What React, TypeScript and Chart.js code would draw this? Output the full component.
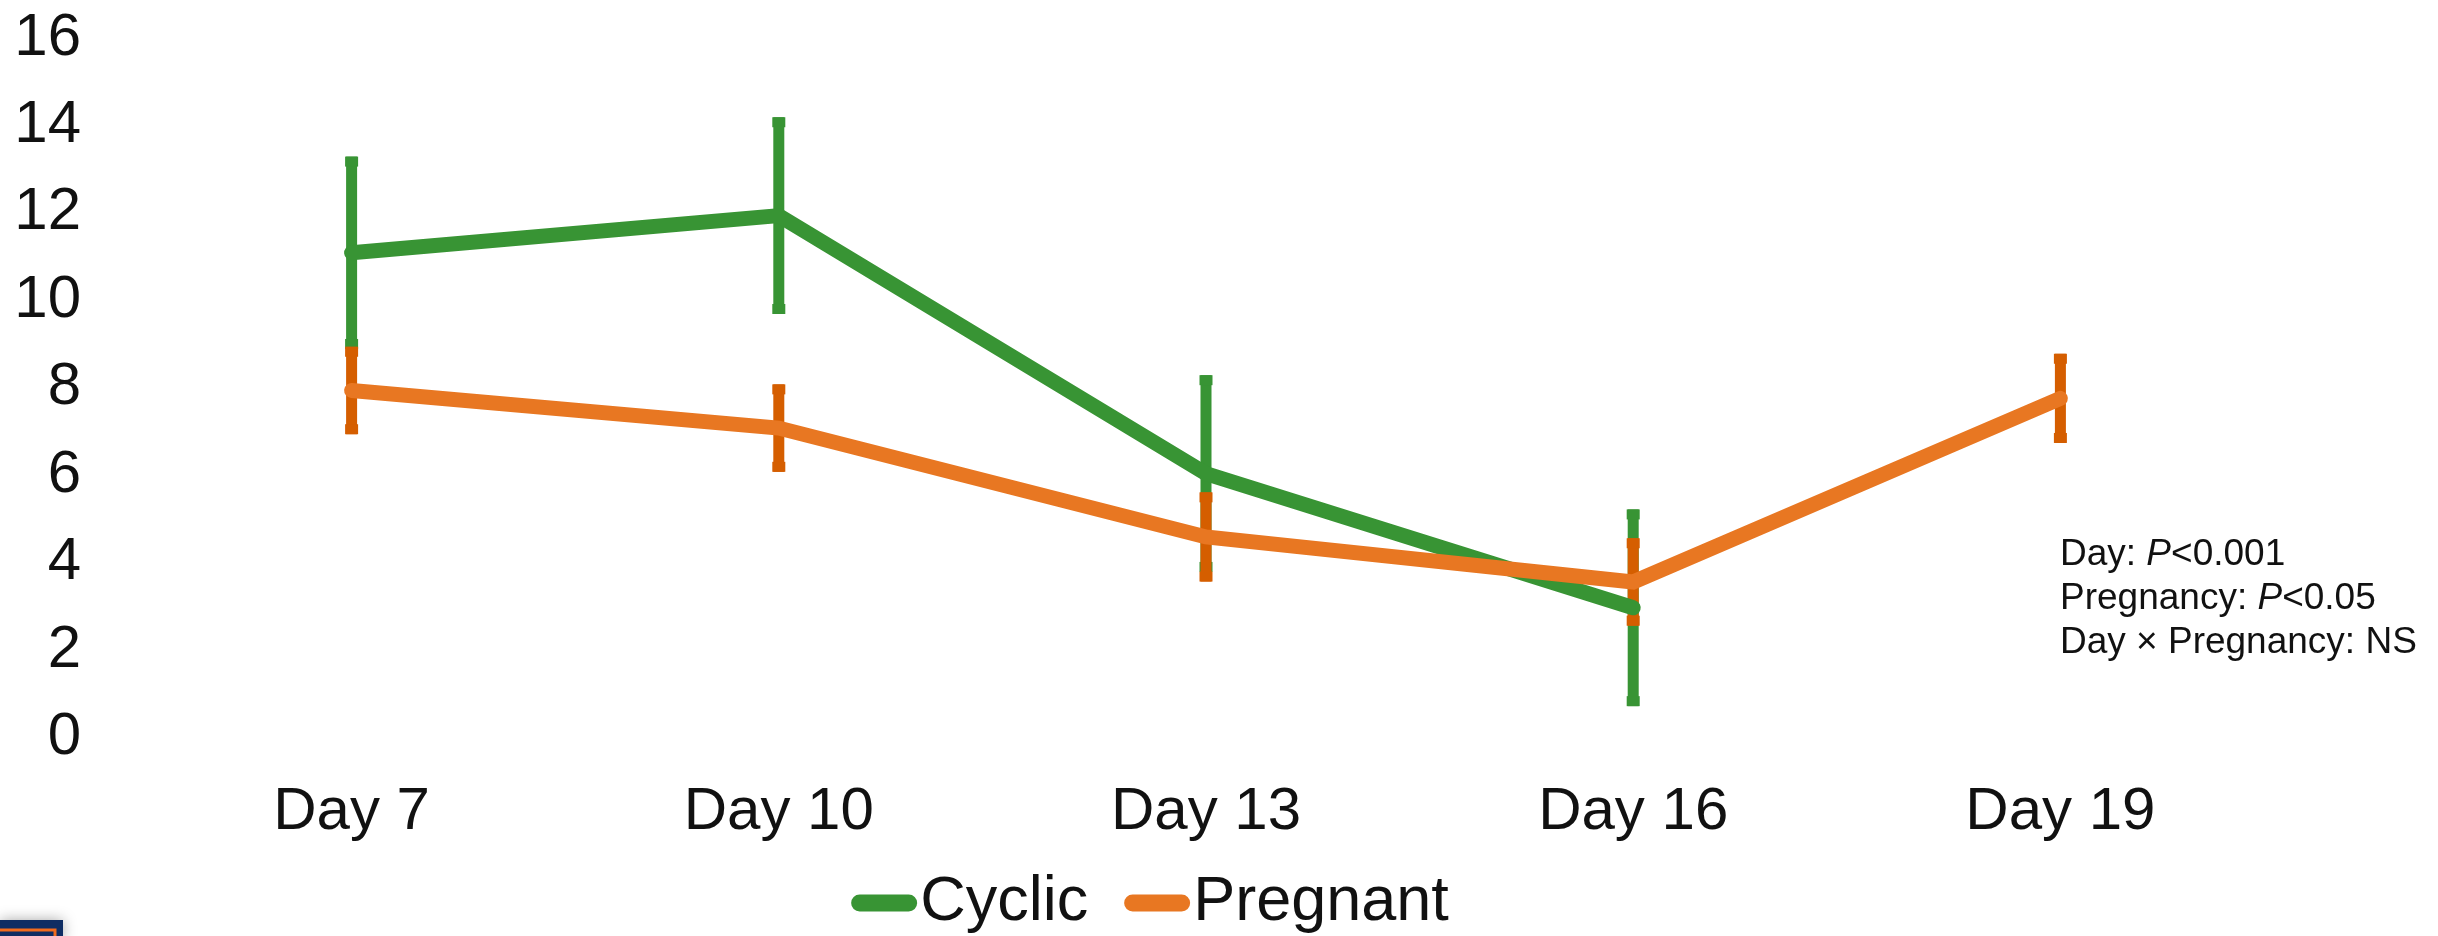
import React, { useEffect, useRef } from 'react';
import { Chart, registerables } from 'chart.js';

Chart.register(...registerables);

const categories = ['Day 7', 'Day 10', 'Day 13', 'Day 16', 'Day 19'];
const cyclicValues: (number | null)[] = [10.95, 11.8, 5.9, 2.83, null];
const cyclicErrors: (number | null)[] = [2.2, 2.25, 2.25, 2.25, null];
const pregnantValues: (number | null)[] = [7.8, 6.94, 4.45, 3.42, 7.62];
const pregnantErrors: (number | null)[] = [1.0, 1.0, 1.02, 1.0, 1.02];
const yTickValues = [0, 2, 4, 6, 8, 10, 12, 14, 16];
const seriesNames = ['Cyclic', 'Pregnant'];
const statLines: [string, boolean][][] = [
  [['Day: ', false], ['P', true], ['<0.001', false]],
  [['Pregnancy: ', false], ['P', true], ['<0.05', false]],
  [['Day \u00D7 Pregnancy: NS', false]],
];

const FONT = '"Liberation Sans", Arial, Helvetica, sans-serif';
const GREEN = '#389434';
const ORANGE = '#E87722';
const ORANGE_ERR = '#D55E00';
const TEXT = '#111111';

const errorBarPlugin = {
  id: 'errorBars',
  beforeDatasetsDraw(chart: any) {
    const ctx = chart.ctx;
    const ys = chart.scales.y;
    chart.data.datasets.forEach((ds: any, di: number) => {
      const meta = chart.getDatasetMeta(di);
      ctx.save();
      ctx.fillStyle = ds.errorColor;
      meta.data.forEach((pt: any, i: number) => {
        const v = ds.data[i];
        const e = ds.errors[i];
        if (v == null || e == null) return;
        const top = ys.getPixelForValue(v + e);
        const bot = ys.getPixelForValue(v - e);
        const x = pt.x;
        ctx.fillRect(x - 5.5, top, 11, bot - top);
        ctx.fillRect(x - 6.5, top, 13, 10);
        ctx.fillRect(x - 6.5, bot - 10, 13, 10);
      });
      ctx.restore();
    });
  },
};

const decorPlugin = {
  id: 'decor',
  afterDraw(chart: any) {
    const ctx = chart.ctx;
    const area = chart.chartArea;
    ctx.save();
    // custom legend
    ctx.font = `63px ${FONT}`;
    ctx.textBaseline = 'middle';
    ctx.textAlign = 'left';
    const colors = [GREEN, ORANGE];
    const swatch = 66;
    const gapText = 3;
    const gapItem = 36;
    const widths = seriesNames.map((n) => ctx.measureText(n).width);
    let total = 0;
    widths.forEach((w, i) => {
      total += swatch + gapText + w + (i < widths.length - 1 ? gapItem : 0);
    });
    const cx = (area.left + area.right) / 2 - 56;
    let x = cx - total / 2;
    const ly = 903;
    seriesNames.forEach((n, i) => {
      ctx.strokeStyle = colors[i];
      ctx.lineWidth = 17;
      ctx.lineCap = 'round';
      ctx.beginPath();
      ctx.moveTo(x + 8.5, ly);
      ctx.lineTo(x + swatch - 8.5, ly);
      ctx.stroke();
      ctx.fillStyle = TEXT;
      ctx.fillText(n, x + swatch + gapText, ly);
      x += swatch + gapText + widths[i] + gapItem;
    });

    // statistics annotation
    ctx.textBaseline = 'alphabetic';
    const sx = 2060;
    let sy = 565;
    statLines.forEach((parts) => {
      let px = sx;
      parts.forEach(([t, it]) => {
        ctx.font = `${it ? 'italic ' : ''}37px ${FONT}`;
        ctx.fillStyle = TEXT;
        ctx.fillText(t, px, sy);
        px += ctx.measureText(t).width;
      });
      sy += 44;
    });

    // corner logo fragment
    ctx.shadowColor = 'rgba(0,0,0,0.35)';
    ctx.shadowBlur = 14;
    ctx.fillStyle = '#0F2D63';
    ctx.fillRect(0, 920, 63, 20);
    ctx.shadowBlur = 0;
    ctx.strokeStyle = '#F26B1D';
    ctx.lineWidth = 3;
    ctx.beginPath();
    ctx.moveTo(0, 930);
    ctx.lineTo(55, 930);
    ctx.lineTo(55, 940);
    ctx.stroke();
    ctx.restore();
  },
};

export default function App() {
  const ref = useRef<HTMLCanvasElement | null>(null);

  useEffect(() => {
    document.body.style.margin = '0';
    const canvas = ref.current;
    if (!canvas) return;
    const chart = new Chart(canvas, {
      type: 'line',
      data: {
        labels: categories,
        datasets: [
          {
            label: seriesNames[0],
            data: cyclicValues,
            errors: cyclicErrors,
            errorColor: GREEN,
            borderColor: GREEN,
            backgroundColor: GREEN,
            borderWidth: 15,
            borderCapStyle: 'round',
            borderJoinStyle: 'miter',
            pointRadius: 0,
            pointHoverRadius: 0,
            tension: 0,
            fill: false,
            order: 1,
          } as any,
          {
            label: seriesNames[1],
            data: pregnantValues,
            errors: pregnantErrors,
            errorColor: ORANGE_ERR,
            borderColor: ORANGE,
            backgroundColor: ORANGE,
            borderWidth: 15,
            borderCapStyle: 'round',
            borderJoinStyle: 'miter',
            pointRadius: 0,
            pointHoverRadius: 0,
            tension: 0,
            fill: false,
            order: 0,
          } as any,
        ],
      },
      options: {
        responsive: false,
        devicePixelRatio: 1,
        animation: false,
        events: [],
        layout: { padding: { top: 32, left: 0, right: 164, bottom: 0 } },
        plugins: {
          legend: { display: false },
          tooltip: { enabled: false },
        },
        scales: {
          x: {
            type: 'category',
            offset: true,
            grid: { display: false, drawTicks: false },
            border: { display: false },
            ticks: {
              color: TEXT,
              padding: 45,
              maxRotation: 0,
              autoSkip: false,
              font: { family: FONT, size: 60, lineHeight: 1.2 },
            },
            afterFit(scale: any) {
              scale.height = 936 - 731.5;
              scale.paddingLeft = 0;
              scale.paddingRight = 0;
            },
          },
          y: {
            min: 0,
            max: 16,
            grid: { display: false, drawTicks: false },
            border: { display: false },
            afterBuildTicks(scale: any) {
              scale.ticks = yTickValues.map((v) => ({ value: v }));
            },
            ticks: {
              color: TEXT,
              padding: 57,
              // two-line label (empty first line) nudges the number slightly downward
              callback: (v: any) => ['', String(v)],
              font: { family: FONT, size: 60, lineHeight: 0.2 },
            },
            afterFit(scale: any) {
              scale.width = 138;
              scale.paddingTop = 0;
              scale.paddingBottom = 0;
            },
          },
        },
      } as any,
      plugins: [errorBarPlugin, decorPlugin],
    });
    return () => chart.destroy();
  }, []);

  return <canvas ref={ref} width={2438} height={936} style={{ display: 'block', width: 2438, height: 936 }} />;
}
